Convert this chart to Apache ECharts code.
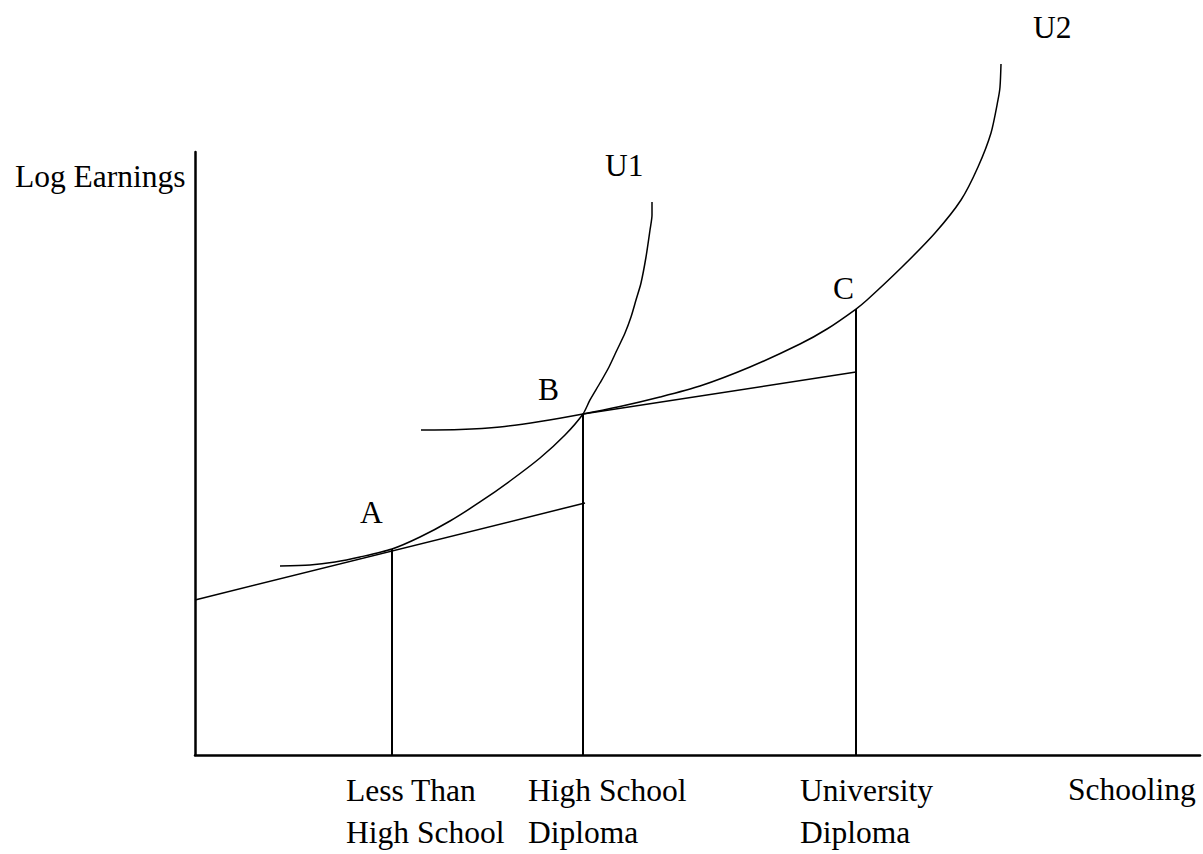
<!DOCTYPE html>
<html>
<head>
<meta charset="utf-8">
<script src="https://cdn.jsdelivr.net/npm/echarts@6/dist/echarts.min.js"></script>
<style>html,body{margin:0;padding:0;background:#fff}#c{width:1203px;height:854px}</style>
</head>
<body>
<div id="c"></div>
<script>
// Schooling levels (x) and the log earnings reached at each (A, B, C)
const schoolingX = [19.7, 38.8, 66.1];
const earningsY = [34.33, 56.83, 74.33];
const schoolingLabels = ['Less Than\nHigh School', 'High School\nDiploma', 'University\nDiploma'];
const schoolingLabelAt = [15.1, 33.3, 60.5];

// Earnings-schooling lines through A and B
const budgetA = [[0, 25.83], [39.0, 42.0]];
const budgetB = [[38.8, 56.83], [66.1, 63.83]];

// Indifference curves
const curveU1 = [[8.5,31.5],[11.5,31.67],[14.0,32.17],[16.5,33.0],[19.7,34.33],[22.5,36.33],[25.5,39.0],[28.5,42.17],[31.5,45.67],[34.5,49.5],[37.0,53.33],[38.8,56.83],[39.5,59.17],[40.5,62.0],[41.4,64.67],[42.2,67.5],[43.0,70.33],[43.6,73.0],[44.1,75.83],[44.6,78.67],[45.1,83.0],[45.5,87.5],[45.7,90.0],[45.7,92.17]];
const curveU2 = [[22.6,54.17],[26.5,54.25],[30.5,54.67],[34.5,55.58],[38.8,56.83],[42.5,58.08],[46.5,59.67],[50.5,61.5],[55.5,64.67],[60.5,68.5],[63.2,71.0],[66.1,74.33],[67.2,75.83],[70.7,81.33],[74.0,87.0],[76.6,92.5],[78.3,98.0],[79.6,103.67],[80.3,109.17],[80.5,111.33],[80.6,115.17]];

// Text annotations: [x, y, text]
const annotations = [
  [-18.0, 96.42, 'Log Earnings'],
  [41.0, 98.17, 'U1'],
  [83.8, 121.25, 'U2'],
  [16.5, 40.42, 'A'],
  [34.3, 61.0, 'B'],
  [63.8, 77.75, 'C'],
  [87.3, -5.75, 'Schooling']
];

const FONT = 'Liberation Serif';
const FS = 31.5;
const black = '#000';
const series = [];
function seg(data, w) {
  return { type: 'line', data: data, symbol: 'none', clip: false, silent: true,
    lineStyle: { color: black, width: w }, animation: false };
}
series.push(seg(budgetA, 1.5));
series.push(seg(budgetB, 1.5));
schoolingX.forEach((x, i) => series.push(seg([[x, 0], [x, earningsY[i]]], 2)));
const u1 = seg(curveU1, 1.5); u1.smooth = 0.25; series.push(u1);
const u2 = seg(curveU2, 1.5); u2.smooth = 0.25; series.push(u2);
series.push({
  type: 'scatter', symbolSize: 0, clip: false, silent: true, animation: false,
  itemStyle: { opacity: 1, color: black },
  data: annotations.map(a => ({ value: [a[0], a[1]], name: a[2] })),
  label: { show: true, position: [0, 0], align: 'left', verticalAlign: 'middle', opacity: 1,
    formatter: p => p.name, color: black, fontFamily: FONT, fontSize: FS }
});

const chart = echarts.init(document.getElementById('c'), null, { renderer: 'svg' });
chart.setOption({
  backgroundColor: '#fff',
  animation: false,
  grid: { left: 195, right: 3, top: 152, bottom: 99 },
  xAxis: {
    type: 'value', min: 0, max: 100.5,
    axisLine: { show: true, onZero: false, lineStyle: { color: black, width: 2.5 } },
    axisTick: { show: false },
    splitLine: { show: false },
    axisLabel: {
      show: true, customValues: schoolingLabelAt, align: 'left', margin: 15,
      color: black, fontFamily: FONT, fontSize: FS, lineHeight: 41.5,
      formatter: function (v) {
        let best = 0;
        schoolingLabelAt.forEach((s, i) => { if (Math.abs(s - v) < Math.abs(schoolingLabelAt[best] - v)) best = i; });
        return schoolingLabels[best];
      }
    }
  },
  yAxis: {
    type: 'value', min: 0, max: 100.5,
    axisLine: { show: true, onZero: false, lineStyle: { color: black, width: 2.5 } },
    axisTick: { show: false },
    splitLine: { show: false },
    axisLabel: { show: false }
  },
  series: series
});
</script>
</body>
</html>
